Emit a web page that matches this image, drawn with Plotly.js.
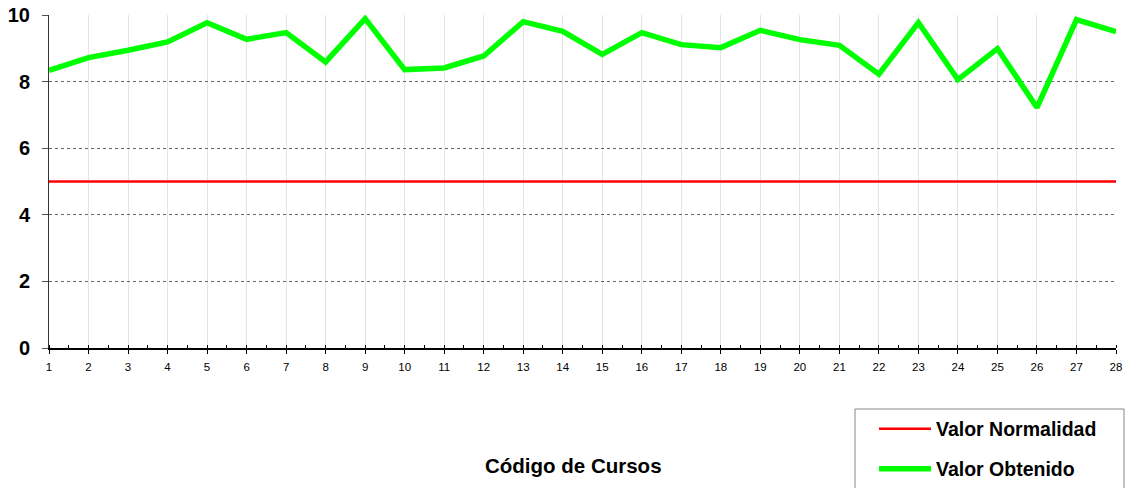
<!DOCTYPE html>
<html>
<head>
<meta charset="utf-8">
<script src="https://cdn.plot.ly/plotly-3.0.1.min.js"></script>
<style>html,body{margin:0;padding:0;background:#fff;}#chart{width:1129px;height:488px;}</style>
</head>
<body>
<div id="chart"></div>
<script>
const cursos = [1,2,3,4,5,6,7,8,9,10,11,12,13,14,15,16,17,18,19,20,21,22,23,24,25,26,27,28];
const valorObtenido = [8.34,8.72,8.94,9.19,9.77,9.27,9.47,8.59,9.89,8.36,8.41,8.77,9.80,9.51,8.82,9.47,9.11,9.02,9.54,9.26,9.09,8.22,9.77,8.06,8.99,7.22,9.86,9.50];
const valorNormalidad = [5,5,5,5,5,5,5,5,5,5,5,5,5,5,5,5,5,5,5,5,5,5,5,5,5,5,5,5];
const yTicks = [0,2,4,6,8,10];

const traces = [
  {x: cursos, y: valorNormalidad, type: 'scatter', mode: 'lines', name: 'Valor Normalidad',
   line: {color: '#ff0000', width: 2.5}, legend: 'legend'},
  {x: cursos, y: valorObtenido, type: 'scatter', mode: 'lines', name: 'Valor Obtenido',
   line: {color: '#00ff00', width: 5.5}, legend: 'legend2'}
];

const F = 'Arial, Liberation Sans, sans-serif';
const legFont = {family: F, size: 19.5, color: '#000', weight: 'bold'};
const L = 49, R = 1116, T = 15, B = 348;
const px = v => (v - L) / (R - L);
const py = v => (B - v) / (B - T);
const layout = {
  width: 1129, height: 488,
  margin: {l: L, r: 1129 - R, t: T, b: 488 - B, autoexpand: false},
  paper_bgcolor: '#fff', plot_bgcolor: '#fff',
  showlegend: true,
  xaxis: {
    range: [1, 28], tickvals: cursos, ticktext: cursos.map(String),
    showgrid: true, gridcolor: '#e4e4e4', gridwidth: 1,
    showline: true, linecolor: '#000', linewidth: 1.5,
    ticks: 'outside', ticklen: 4, tickcolor: '#000',
    minor: {ticks: 'inside', ticklen: 3, tickcolor: '#000', dtick: 0.5, tick0: 0.5, showgrid: false},
    tickfont: {family: F, size: 11.5, color: '#000'},
    ticklabelstandoff: 4,
    zeroline: false, fixedrange: true
  },
  yaxis: {
    range: [0, 10], tickvals: yTicks,
    showgrid: true, gridcolor: '#666', griddash: 'dot', gridwidth: 1,
    showline: true, linecolor: '#333', linewidth: 1,
    ticks: 'outside', ticklen: 6, tickcolor: '#555',
    tickfont: {family: F, size: 20, color: '#000', weight: 'bold'},
    ticklabelstandoff: 8,
    zeroline: false, fixedrange: true
  },
  legend: {x: px(874), xanchor: 'left', y: py(429), yanchor: 'middle',
           bgcolor: 'rgba(0,0,0,0)', borderwidth: 0, font: legFont, itemwidth: 52},
  legend2: {x: px(874), xanchor: 'left', y: py(469), yanchor: 'middle',
           bgcolor: 'rgba(0,0,0,0)', borderwidth: 0, font: legFont, itemwidth: 52},
  shapes: [
    {type: 'rect', xref: 'paper', yref: 'paper',
     x0: px(855), x1: px(1124), y0: py(492), y1: py(409),
     line: {color: '#888', width: 1}, fillcolor: 'rgba(0,0,0,0)', layer: 'below'}
  ],
  annotations: [
    {text: 'Código de Cursos', xref: 'paper', yref: 'paper',
     x: px(573), y: py(465), xanchor: 'center', yanchor: 'middle', showarrow: false,
     font: {family: F, size: 20.5, color: '#000', weight: 'bold'}}
  ]
};

Plotly.newPlot('chart', traces, layout, {displayModeBar: false, staticPlot: true});
</script>
</body>
</html>
